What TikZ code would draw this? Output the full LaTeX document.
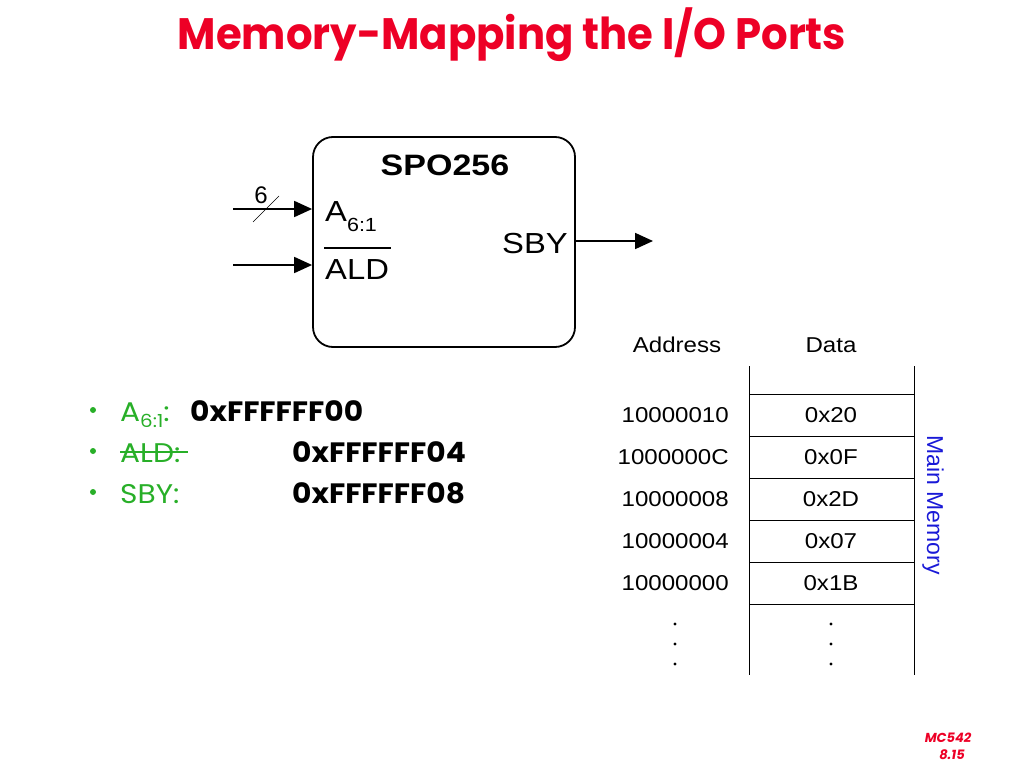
\documentclass[tikz,border=0pt]{standalone}
\usepackage{fontspec}
\setmainfont{Liberation Sans}
\newfontfamily\comic{Poppins}
\usetikzlibrary{arrows.meta}
\definecolor{titlered}{RGB}{237,0,38}
\definecolor{bulgreen}{RGB}{40,175,40}
\definecolor{memblue}{RGB}{25,25,215}
\begin{document}
\begin{tikzpicture}[x=1pt,y=-1pt,
  big/.style={inner sep=0pt, font=\fontsize{29}{29}\selectfont, xscale=1.13, transform shape},
  tab/.style={inner sep=0pt, font=\fontsize{21.5}{21.5}\selectfont, xscale=1.12, transform shape},
  arr/.style={line width=1.8pt, -{Triangle[length=18pt,width=16pt]}},
  grid/.style={line width=0.9pt},
  bul/.style={inner sep=0pt, anchor=base west, font=\comic\fontsize{27}{27}\selectfont, text=bulgreen, xscale=1.1, transform shape},
  hex/.style={inner sep=0pt, anchor=base west, font=\comic\bfseries\fontsize{28}{28}\selectfont, xscale=1.06, transform shape},
  dot/.style={circle, fill=black, inner sep=0pt, minimum size=3.4pt},
  gdot/.style={circle, fill=bulgreen, inner sep=0pt, minimum size=6pt}]
\useasboundingbox (0,0) rectangle (1024,768);
% title
\node[inner sep=0pt, anchor=base, font=\comic\bfseries\fontsize{44}{44}\selectfont, text=titlered, xscale=0.95, transform shape] (title) at (512,49) {Memory-Mapping the I/O Ports};
% chip
\node[draw, line width=1.8pt, rounded corners=20pt, minimum width=262pt, minimum height=210pt, inner sep=0pt] (chip) at (444,242) {};
\node[big, anchor=base, font=\bfseries\fontsize{29.5}{29.5}\selectfont, xscale=1.02] (name) at (445,175) {SPO256};
\node[big, anchor=base west] (a) at (325,221) {A\raisebox{-10pt}{\fontsize{19}{19}\selectfont 6:1}};
\node[big, anchor=base west] (ald) at (325,279) {ALD};
\draw[line width=1.3pt] (324,248) -- (391,248);
\node[big, anchor=base east] (sby) at (568,253) {SBY};
% connectors
\coordinate (in1) at (233,209);
\coordinate (in2) at (233,265);
\coordinate (out) at (653,241);
\draw[arr] (in1) -- (chip.west |- in1);
\draw[arr] (in2) -- (chip.west |- in2);
\draw[arr] (chip.east |- out) -- (out);
\draw[line width=0.6pt] (253,222) -- (279,196);
\node[inner sep=0pt, anchor=base, font=\fontsize{24}{24}\selectfont] (six) at (261,203) {6};
% bullets
\foreach \y in {410,451,492} \node[gdot] at (93,\y) {};
\node[bul] (b1) at (120,421) {A\raisebox{-6pt}{\fontsize{18}{18}\selectfont 6:1}:};
\node[hex] (h1) at (190,421) {0xFFFFFF00};
\node[bul] (b2) at (120,462) {ALD:};
\draw[bulgreen, line width=1.3pt] (120,452) -- (188,452);
\node[hex] (h2) at (292,462) {0xFFFFFF04};
\node[bul] (b3) at (120,503) {SBY:};
\node[hex] (h3) at (292,503) {0xFFFFFF08};
% memory table
\node[tab, anchor=base] (addr) at (677,352) {Address};
\node[tab, anchor=base] (data) at (831,352) {Data};
\draw[grid] (749,366) -- (749,675);
\draw[grid] (914,366) -- (914,675);
\foreach \y in {394,436,478,520,562,604} \draw[grid] (749,\y) -- (914,\y);
\foreach \y/\ad/\dv in {415/10000010/0x20, 457/1000000C/0x0F, 499/10000008/0x2D, 541/10000004/0x07, 583/10000000/0x1B} {
  \node[tab, anchor=base east] at (729,\y+7.5) {\ad};
  \node[tab, anchor=base] at (831,\y+7.5) {\dv};
}
\foreach \y in {624,644,664} {
  \node[dot] at (675,\y) {};
  \node[dot] at (831,\y) {};
}
\node[inner sep=0pt, rotate=-90, font=\fontsize{23}{23}\selectfont, text=memblue] (mm) at (933,505) {Main Memory};
% footer
\node[inner sep=0pt, font=\comic\bfseries\itshape\fontsize{13}{13}\selectfont, text=titlered] (f1) at (948,738) {MC542};
\node[inner sep=0pt, font=\comic\bfseries\itshape\fontsize{13}{13}\selectfont, text=titlered] (f2) at (952,755) {8.15};
\end{tikzpicture}
\end{document}
